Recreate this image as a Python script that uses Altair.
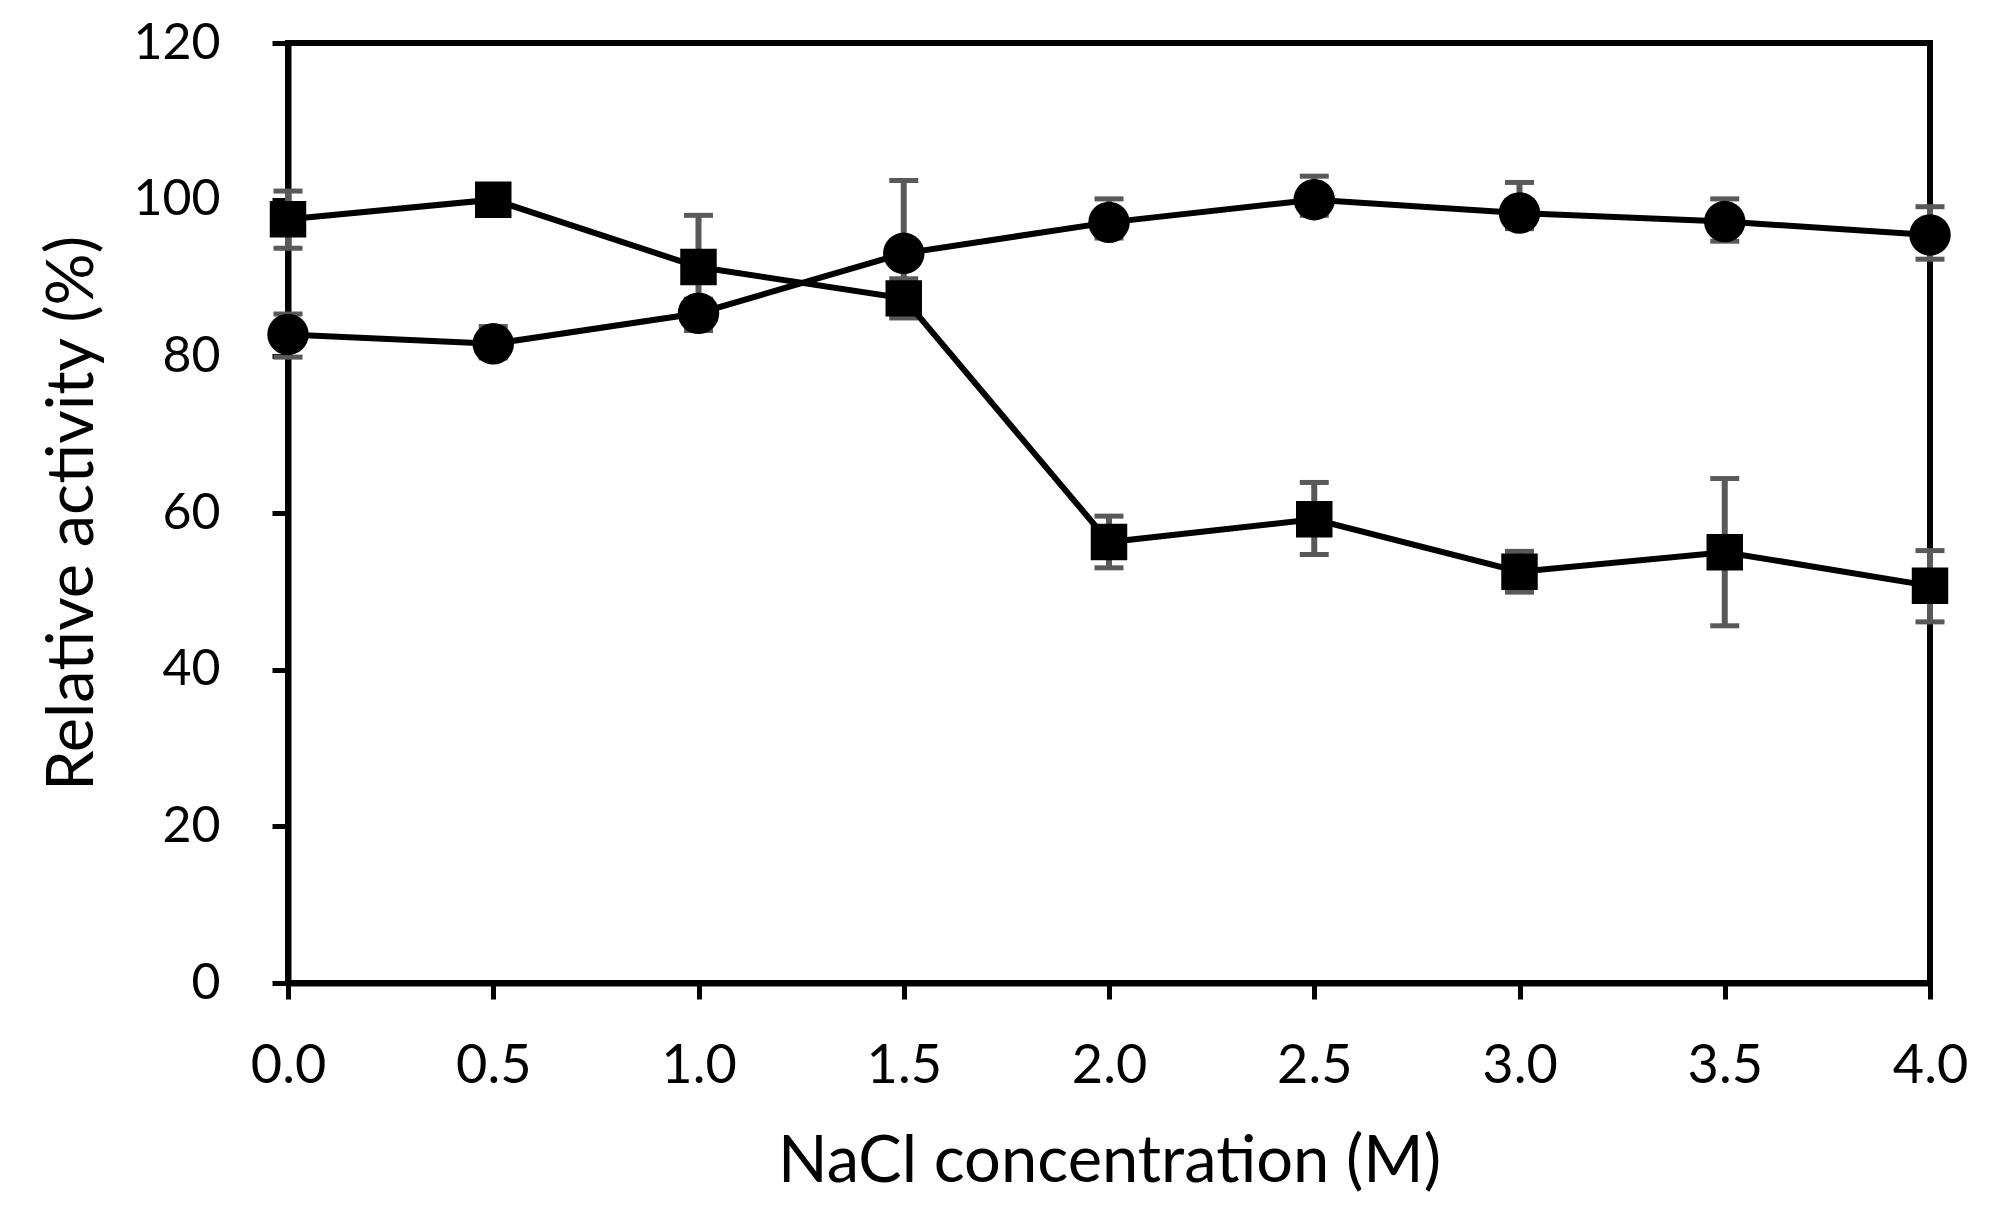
import altair as alt
import pandas as pd

# ---- data ----
nacl = [0.0, 0.5, 1.0, 1.5, 2.0, 2.5, 3.0, 3.5, 4.0]

circle_activity = [82.8, 81.6, 85.5, 93.15, 97.1, 100.0, 98.3, 97.2, 95.5]
circle_err_up = [2.6, 2.2, 1.8, 9.3, 3.0, 3.0, 3.9, 2.9, 3.6]
circle_err_down = [2.9, 1.8, 2.2, 6.0, 2.0, 2.0, 2.0, 2.5, 3.1]

square_activity = [97.5, 100.0, 91.4, 87.4, 56.3, 59.2, 52.5, 55.0, 50.7]
square_err_up = [3.6, 1.5, 6.6, 2.5, 3.3, 4.7, 2.6, 9.4, 4.5]
square_err_down = [3.7, 1.5, 6.6, 2.5, 3.3, 4.5, 2.6, 9.4, 4.6]

x_ticks = [0.0, 0.5, 1.0, 1.5, 2.0, 2.5, 3.0, 3.5, 4.0]
y_ticks = [0, 20, 40, 60, 80, 100, 120]

x_title = "NaCl concentration (M)"
y_title = "Relative activity (%)"

# ---- build table ----
rows = []
for x, v, up, dn in zip(nacl, circle_activity, circle_err_up, circle_err_down):
    rows.append({"x": x, "y": v, "hi": v + up, "lo": v - dn, "series": "circle"})
for x, v, up, dn in zip(nacl, square_activity, square_err_up, square_err_down):
    rows.append({"x": x, "y": v, "hi": v + up, "lo": v - dn, "series": "square"})
df = pd.DataFrame(rows)

FONT = "Lato"
GRAY = "#595959"

xs = alt.X("x:Q", scale=alt.Scale(domain=[0, 4], nice=False),
           axis=alt.Axis(values=x_ticks, format=".1f", title=x_title,
                         labelFlush=False, labelFontSize=54,
                         titleY=198, titleBaseline="alphabetic"))
ys = alt.Y("y:Q", scale=alt.Scale(domain=[0, 120], nice=False),
           axis=alt.Axis(values=y_ticks, title=y_title, labelFontSize=50,
                         titleX=-196, titleY=470, titleAngle=-90,
                         titleBaseline="alphabetic", titleAlign="center"))

base = alt.Chart(df)

err = base.mark_rule(color=GRAY, strokeWidth=6).encode(
    x=xs, y=alt.Y("lo:Q"), y2="hi:Q")
cap_hi = base.mark_tick(color=GRAY, orient="horizontal", size=29, thickness=5, opacity=1).encode(
    x=xs, y=alt.Y("hi:Q"))
cap_lo = base.mark_tick(color=GRAY, orient="horizontal", size=29, thickness=5, opacity=1).encode(
    x=xs, y=alt.Y("lo:Q"))
line = base.mark_line(color="black", strokeWidth=6).encode(
    x=xs, y=ys, detail="series:N")
pts_c = base.transform_filter(alt.datum.series == "circle").mark_point(
    shape="circle", filled=True, size=1720, color="black", opacity=1).encode(x=xs, y=ys)
pts_s = base.transform_filter(alt.datum.series == "square").mark_point(
    shape="square", filled=True, size=1330, color="black", opacity=1).encode(x=xs, y=ys)

chart = alt.layer(err, cap_hi, cap_lo, line, pts_c, pts_s).properties(
    width=1642, height=940,
    autosize=alt.AutoSizeParams(type="none"),
    padding={"left": 280, "top": 35, "right": 50, "bottom": 225},
    background="white",
).configure_view(
    stroke="black", strokeWidth=6
).configure_axis(
    grid=False,
    domainColor="black", domainWidth=6,
    tickColor="black", tickWidth=5, tickSize=16,
    labelFont=FONT, labelColor="black",
    titleFont=FONT, titleFontSize=65, titleColor="black", titleFontWeight="normal",
).configure_axisX(
    labelPadding=40,
).configure_axisY(
    labelPadding=52,
)

chart.save("out.html", embed_options={"renderer": "svg", "actions": False})
